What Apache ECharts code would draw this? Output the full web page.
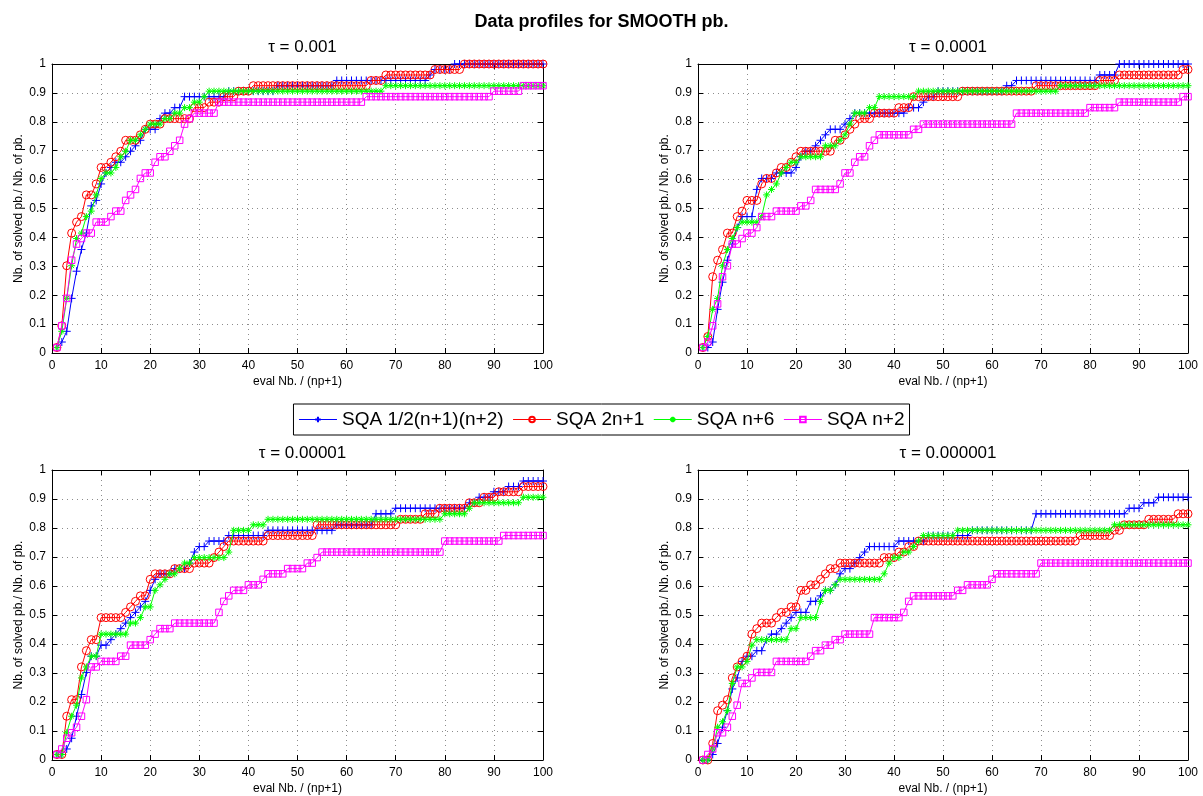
<!DOCTYPE html>
<html><head><meta charset="utf-8">
<script src="https://cdn.jsdelivr.net/npm/echarts@6/dist/echarts.min.js"></script>
<style>html,body{margin:0;padding:0;background:#fff}#c{width:1203px;height:796px}</style>
</head><body><div id="c"></div><script>
// ---------------- DATA ----------------
const EVALS = [1,2,3,4,5,6,7,8,9,10,11,12,13,14,15,16,17,18,19,20,21,22,23,24,25,26,27,28,29,30,31,32,33,34,35,36,37,38,39,40,41,42,43,44,45,46,47,48,49,50,51,52,53,54,55,56,57,58,59,60,61,62,63,64,65,66,67,68,69,70,71,72,73,74,75,76,77,78,79,80,81,82,83,84,85,86,87,88,89,90,91,92,93,94,95,96,97,98,99,100];
const SERIES_NAMES = ['SQA 1/2(n+1)(n+2)', 'SQA 2n+1', 'SQA n+6', 'SQA n+2'];
const PANEL_TITLES = ['\u03C4 = 0.001', '\u03C4 = 0.0001', '\u03C4 = 0.00001', '\u03C4 = 0.000001'];
const MAIN_TITLE = 'Data profiles for SMOOTH pb.';
const X_NAME = 'eval Nb. / (np+1)';
const Y_NAME = 'Nb. of solved pb./ Nb. of pb.';

// tau = 0.001
const T1_QUAD = [.019,.038,.075,.189,.283,.358,.415,.509,.528,.585,
 .623,.642,.660,.660,.679,.698,.717,.736,.774,.774,
 .774,.811,.830,.830,.849,.849,.887,.887,.887,.887,
 .887,.887,.887,.887,.887,.906,.906,.906,.906,.906,
 .906,.906,.906,.906,.906,.925,.925,.925,.925,.925,
 .925,.925,.925,.925,.925,.925,.925,.943,.943,.943,
 .943,.943,.943,.943,.943,.943,.943,.943,.943,.943,
 .943,.943,.943,.943,.943,.943,.962,.981,.981,.981,
 .981,1,1,1,1,1,1,1,1,1,
 1,1,1,1,1,1,1,1,1,1];
const T1_2N1 = [.019,.094,.302,.415,.453,.472,.547,.547,.585,.642,
 .642,.660,.679,.698,.736,.736,.736,.755,.774,.792,
 .792,.792,.811,.811,.811,.811,.811,.811,.849,.849,
 .849,.868,.868,.868,.887,.887,.887,.906,.906,.906,
 .925,.925,.925,.925,.925,.925,.925,.925,.925,.925,
 .925,.925,.925,.925,.925,.925,.925,.925,.925,.925,
 .925,.925,.925,.925,.943,.943,.943,.962,.962,.962,
 .962,.962,.962,.962,.962,.962,.962,.981,.981,.981,
 .981,.981,.981,1,1,1,1,1,1,1,
 1,1,1,1,1,1,1,1,1,1];
const T1_N6 = [.019,.075,.189,.302,.396,.415,.472,.491,.547,.604,
 .623,.623,.642,.679,.698,.736,.736,.755,.774,.792,
 .792,.792,.811,.811,.830,.830,.849,.849,.868,.868,
 .887,.906,.906,.906,.906,.906,.906,.906,.906,.906,
 .906,.906,.906,.906,.906,.906,.906,.906,.906,.906,
 .906,.906,.906,.906,.906,.906,.906,.906,.906,.906,
 .906,.906,.906,.906,.906,.906,.906,.925,.925,.925,
 .925,.925,.925,.925,.925,.925,.925,.925,.925,.925,
 .925,.925,.925,.925,.925,.925,.925,.925,.925,.925,
 .925,.925,.925,.925,.925,.925,.925,.925,.925,.925];
const T1_N2 = [.019,.094,.189,.321,.377,.396,.415,.415,.453,.453,
 .453,.472,.491,.491,.528,.547,.566,.604,.623,.623,
 .660,.679,.679,.698,.717,.736,.792,.811,.830,.830,
 .830,.830,.830,.868,.868,.868,.868,.868,.868,.868,
 .868,.868,.868,.868,.868,.868,.868,.868,.868,.868,
 .868,.868,.868,.868,.868,.868,.868,.868,.868,.868,
 .868,.868,.868,.887,.887,.887,.887,.887,.887,.887,
 .887,.887,.887,.887,.887,.887,.887,.887,.887,.887,
 .887,.887,.887,.887,.887,.887,.887,.887,.887,.906,
 .906,.906,.906,.906,.906,.925,.925,.925,.925,.925];

// tau = 0.0001
const T2_QUAD = [.019,.019,.038,.151,.245,.321,.377,.434,.472,.472,
 .472,.566,.604,.604,.604,.623,.623,.623,.623,.642,
 .679,.698,.698,.717,.736,.755,.774,.774,.774,.792,
 .811,.830,.830,.830,.830,.830,.830,.830,.830,.830,
 .830,.830,.849,.849,.849,.868,.887,.887,.906,.906,
 .906,.906,.906,.906,.906,.906,.906,.906,.906,.906,
 .906,.906,.925,.925,.943,.943,.943,.943,.943,.943,
 .943,.943,.943,.943,.943,.943,.943,.943,.943,.943,
 .943,.962,.962,.962,.962,1,1,1,1,1,
 1,1,1,1,1,1,1,1,1,1];
const T2_2N1 = [.019,.057,.264,.321,.358,.415,.415,.472,.491,.528,
 .528,.528,.585,.604,.604,.623,.642,.642,.660,.679,
 .698,.698,.698,.698,.698,.698,.698,.736,.736,.755,
 .774,.792,.811,.811,.811,.830,.830,.830,.830,.830,
 .849,.849,.849,.887,.887,.887,.887,.887,.887,.887,
 .887,.887,.887,.906,.906,.906,.906,.906,.906,.906,
 .906,.906,.906,.906,.906,.906,.906,.906,.925,.925,
 .925,.925,.925,.925,.925,.925,.925,.925,.925,.925,
 .925,.943,.943,.943,.943,.962,.962,.962,.962,.962,
 .962,.962,.962,.962,.962,.962,.962,.962,.981,.981];
const T2_N6 = [.019,.057,.151,.189,.302,.358,.396,.434,.453,.453,
 .453,.453,.472,.547,.566,.585,.623,.642,.660,.660,
 .679,.679,.679,.679,.679,.717,.717,.717,.736,.755,
 .792,.830,.830,.830,.849,.849,.887,.887,.887,.887,
 .887,.887,.887,.887,.906,.906,.906,.906,.906,.906,
 .906,.906,.906,.906,.906,.906,.906,.906,.906,.906,
 .906,.906,.906,.906,.906,.906,.906,.906,.906,.906,
 .906,.906,.906,.925,.925,.925,.925,.925,.925,.925,
 .925,.925,.925,.925,.925,.925,.925,.925,.925,.925,
 .925,.925,.925,.925,.925,.925,.925,.925,.925,.925];
const T2_N2 = [.019,.038,.094,.170,.264,.302,.377,.377,.396,.415,
 .415,.434,.472,.472,.472,.491,.491,.491,.491,.491,
 .509,.509,.528,.566,.566,.566,.566,.566,.585,.623,
 .623,.660,.679,.679,.717,.736,.755,.755,.755,.755,
 .755,.755,.755,.774,.774,.792,.792,.792,.792,.792,
 .792,.792,.792,.792,.792,.792,.792,.792,.792,.792,
 .792,.792,.792,.792,.830,.830,.830,.830,.830,.830,
 .830,.830,.830,.830,.830,.830,.830,.830,.830,.849,
 .849,.849,.849,.849,.849,.868,.868,.868,.868,.868,
 .868,.868,.868,.868,.868,.868,.868,.868,.887,.887];

// tau = 0.00001
const T3_QUAD = [.019,.019,.038,.075,.151,.226,.302,.358,.358,.396,
 .396,.415,.434,.453,.472,.491,.509,.528,.547,.585,
 .623,.642,.642,.642,.660,.660,.660,.679,.717,.736,
 .736,.755,.755,.755,.755,.774,.774,.774,.774,.774,
 .774,.774,.774,.792,.792,.792,.792,.792,.792,.792,
 .792,.792,.792,.792,.792,.792,.792,.811,.811,.811,
 .811,.811,.811,.811,.811,.849,.849,.849,.849,.868,
 .868,.868,.868,.868,.868,.868,.868,.868,.868,.868,
 .868,.868,.868,.868,.887,.887,.906,.906,.906,.925,
 .925,.925,.943,.943,.943,.962,.962,.962,.962,.962];
const T3_2N1 = [.019,.019,.151,.208,.208,.321,.377,.415,.415,.491,
 .491,.491,.491,.491,.509,.528,.547,.566,.566,.623,
 .642,.642,.642,.642,.660,.660,.660,.660,.679,.679,
 .679,.679,.698,.717,.736,.755,.755,.755,.755,.755,
 .755,.755,.755,.774,.774,.774,.774,.774,.774,.774,
 .774,.774,.774,.811,.811,.811,.811,.811,.811,.811,
 .811,.811,.811,.811,.811,.811,.811,.811,.811,.811,
 .830,.830,.830,.830,.830,.849,.849,.849,.868,.868,
 .868,.868,.868,.868,.887,.887,.887,.906,.906,.906,
 .925,.925,.925,.925,.925,.943,.943,.943,.943,.943];
const T3_N6 = [.019,.019,.094,.151,.189,.283,.321,.358,.358,.434,
 .434,.434,.434,.434,.434,.472,.472,.491,.528,.528,
 .585,.604,.623,.642,.642,.660,.679,.679,.698,.698,
 .698,.698,.698,.698,.698,.717,.792,.792,.792,.792,
 .811,.811,.811,.830,.830,.830,.830,.830,.830,.830,
 .830,.830,.830,.830,.830,.830,.830,.830,.830,.830,
 .830,.830,.830,.830,.830,.830,.830,.830,.830,.830,
 .830,.830,.830,.830,.830,.830,.830,.830,.830,.849,
 .849,.849,.849,.849,.868,.887,.887,.887,.887,.887,
 .887,.887,.887,.887,.887,.906,.906,.906,.906,.906];
const T3_N2 = [.019,.038,.075,.094,.113,.151,.208,.321,.321,.340,
 .340,.340,.340,.358,.358,.396,.396,.396,.396,.415,
 .434,.453,.453,.453,.472,.472,.472,.472,.472,.472,
 .472,.472,.472,.509,.547,.566,.585,.585,.585,.604,
 .604,.604,.623,.642,.642,.642,.642,.660,.660,.660,
 .660,.679,.679,.698,.717,.717,.717,.717,.717,.717,
 .717,.717,.717,.717,.717,.717,.717,.717,.717,.717,
 .717,.717,.717,.717,.717,.717,.717,.717,.717,.755,
 .755,.755,.755,.755,.755,.755,.755,.755,.755,.755,
 .755,.774,.774,.774,.774,.774,.774,.774,.774,.774];

// tau = 0.000001
const T4_QUAD = [0,0,.019,.057,.113,.170,.245,.283,.340,.358,
 .358,.377,.377,.415,.434,.434,.453,.472,.491,.509,
 .509,.509,.547,.547,.566,.585,.585,.604,.642,.660,
 .660,.679,.698,.717,.736,.736,.736,.736,.736,.736,
 .755,.755,.755,.755,.755,.755,.774,.774,.774,.774,
 .774,.774,.774,.774,.774,.792,.792,.792,.792,.792,
 .792,.792,.792,.792,.792,.792,.792,.792,.849,.849,
 .849,.849,.849,.849,.849,.849,.849,.849,.849,.849,
 .849,.849,.849,.849,.849,.849,.849,.868,.868,.868,
 .887,.887,.887,.906,.906,.906,.906,.906,.906,.906];
const T4_2N1 = [0,0,.057,.170,.189,.208,.283,.321,.340,.358,
 .434,.453,.472,.472,.472,.491,.509,.509,.528,.528,
 .585,.585,.604,.604,.623,.642,.660,.660,.679,.679,
 .679,.679,.679,.679,.679,.679,.679,.698,.698,.698,
 .717,.717,.736,.736,.755,.755,.755,.755,.755,.755,
 .755,.755,.755,.755,.755,.755,.755,.755,.755,.755,
 .755,.755,.755,.755,.755,.755,.755,.755,.755,.755,
 .755,.755,.755,.755,.755,.755,.755,.774,.774,.774,
 .774,.774,.774,.774,.792,.792,.811,.811,.811,.811,
 .811,.830,.830,.830,.830,.830,.830,.849,.849,.849];
const T4_N6 = [0,0,.038,.113,.132,.170,.264,.321,.321,.340,
 .396,.415,.415,.415,.415,.415,.415,.415,.453,.453,
 .491,.491,.491,.491,.547,.585,.585,.604,.623,.623,
 .623,.623,.623,.623,.623,.623,.623,.642,.679,.698,
 .698,.717,.717,.736,.755,.774,.774,.774,.774,.774,
 .774,.774,.792,.792,.792,.792,.792,.792,.792,.792,
 .792,.792,.792,.792,.792,.792,.792,.792,.792,.792,
 .792,.792,.792,.792,.792,.792,.792,.792,.792,.792,
 .792,.792,.792,.792,.811,.811,.811,.811,.811,.811,
 .811,.811,.811,.811,.811,.811,.811,.811,.811,.811];
const T4_N2 = [0,.019,.038,.094,.094,.113,.151,.189,.264,.264,
 .283,.302,.302,.302,.302,.340,.340,.340,.340,.340,
 .340,.340,.358,.377,.377,.396,.396,.415,.415,.434,
 .434,.434,.434,.434,.434,.491,.491,.491,.491,.491,
 .491,.509,.547,.566,.566,.566,.566,.566,.566,.566,
 .566,.566,.585,.585,.604,.604,.604,.604,.604,.623,
 .642,.642,.642,.642,.642,.642,.642,.642,.642,.679,
 .679,.679,.679,.679,.679,.679,.679,.679,.679,.679,
 .679,.679,.679,.679,.679,.679,.679,.679,.679,.679,
 .679,.679,.679,.679,.679,.679,.679,.679,.679,.679];

const PANELS = [
  [T1_QUAD, T1_2N1, T1_N6, T1_N2],
  [T2_QUAD, T2_2N1, T2_N6, T2_N2],
  [T3_QUAD, T3_2N1, T3_N6, T3_N2],
  [T4_QUAD, T4_2N1, T4_N6, T4_N2]
];

// ---------------- STYLE / LAYOUT ----------------
const FONT = '"Liberation Sans", Arial, Helvetica, sans-serif';
const COLORS = ['#0000ff', '#ff0000', '#00ff00', '#ff00ff'];
const SYMBOLS = [
  'path://M0,5L10,5M5,0L5,10',
  'circle',
  'path://M5,0L5,10M0,5L10,5M1.6,1.6L8.4,8.4M1.6,8.4L8.4,1.6',
  'rect'
];
const SYM_SIZE = [8, 8, 7, 6.5];
const GRIDS = [
  {left: 52, top: 64, width: 491, height: 289},
  {left: 698, top: 64, width: 490, height: 289},
  {left: 52, top: 470, width: 491, height: 292},
  {left: 698, top: 470, width: 490, height: 292}
];

const chart = echarts.init(document.getElementById('c'), null, {renderer: 'canvas'});
const titles = [{
  text: MAIN_TITLE, left: 'center', top: 8,
  textStyle: {fontFamily: FONT, fontSize: 18, fontWeight: 'bold', color: '#000'}
}];
const xAxes = [], yAxes = [], series = [];
const lineBlack = {color: '#000', width: 1};
const gridLine = {show: true, lineStyle: {color: '#8c8c8c', width: 1, type: [1, 4]}};

GRIDS.forEach((g, i) => {
  titles.push({
    text: PANEL_TITLES[i], left: g.left + g.width / 2, top: g.top - 30, textAlign: 'center',
    textStyle: {fontFamily: FONT, fontSize: 17, fontWeight: 'normal', color: '#000'}
  });
  xAxes.push({
    gridIndex: i, type: 'value', min: 0, max: 100, interval: 10, position: 'bottom',
    axisLine: {onZero: false, lineStyle: lineBlack},
    axisTick: {inside: true, length: 5, lineStyle: lineBlack},
    axisLabel: {color: '#000', fontFamily: FONT, fontSize: 12, margin: 7},
    splitLine: gridLine,
    name: X_NAME, nameLocation: 'middle', nameGap: 23,
    nameTextStyle: {color: '#000', fontFamily: FONT, fontSize: 12}
  });
  xAxes.push({
    gridIndex: i, type: 'value', min: 0, max: 100, interval: 10, position: 'top',
    axisLine: {onZero: false, lineStyle: lineBlack},
    axisTick: {inside: true, length: 5, lineStyle: lineBlack},
    axisLabel: {show: false}, splitLine: {show: false}
  });
  yAxes.push({
    gridIndex: i, type: 'value', min: 0, max: 1, interval: 0.1, position: 'left',
    axisLine: {onZero: false, lineStyle: lineBlack},
    axisTick: {inside: true, length: 5, lineStyle: lineBlack},
    axisLabel: {color: '#000', fontFamily: FONT, fontSize: 12, margin: 6,
      formatter: v => String(Math.round(v * 10) / 10)},
    splitLine: gridLine,
    name: Y_NAME, nameLocation: 'middle', nameGap: 27, nameRotate: 90,
    nameTextStyle: {color: '#000', fontFamily: FONT, fontSize: 12}
  });
  yAxes.push({
    gridIndex: i, type: 'value', min: 0, max: 1, interval: 0.1, position: 'right',
    axisLine: {onZero: false, lineStyle: lineBlack},
    axisTick: {inside: true, length: 5, lineStyle: lineBlack},
    axisLabel: {show: false}, splitLine: {show: false}
  });
  PANELS[i].forEach((vals, k) => {
    series.push({
      name: SERIES_NAMES[k], type: 'line',
      xAxisIndex: 2 * i, yAxisIndex: 2 * i,
      data: EVALS.map((x, j) => [x, vals[j]]),
      symbol: SYMBOLS[k], symbolSize: SYM_SIZE[k], showSymbol: true, clip: false,
      lineStyle: {color: COLORS[k], width: 1},
      itemStyle: {color: 'rgba(255,255,255,0)', borderColor: COLORS[k], borderWidth: 1},
      emphasis: {disabled: true}, z: 2 + k
    });
  });
});

chart.setOption({
  animation: false,
  backgroundColor: '#fff',
  title: titles,
  grid: GRIDS.map(g => Object.assign({containLabel: false}, g)),
  xAxis: xAxes,
  yAxis: yAxes,
  legend: {
    data: SERIES_NAMES, left: 'center', top: 404, orient: 'horizontal',
    itemWidth: 38, itemHeight: 7, itemGap: 9, padding: [6, 5],
    borderColor: '#000', borderWidth: 1, backgroundColor: '#fff',
    lineStyle: {width: 1},
    textStyle: {fontFamily: FONT, fontSize: 19, color: '#000'}
  },
  series: series
});
</script></body></html>
